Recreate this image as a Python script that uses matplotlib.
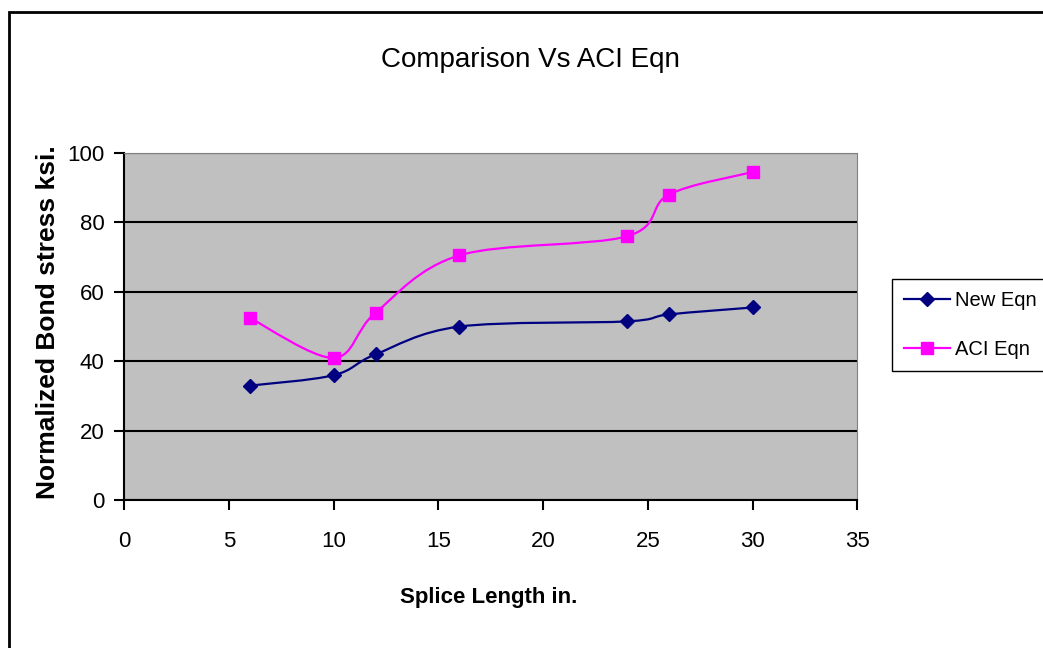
import matplotlib
matplotlib.use("Agg")
import matplotlib.pyplot as plt
from matplotlib.lines import Line2D
from matplotlib.path import Path
from matplotlib.patches import PathPatch, Rectangle
import numpy as np

plt.rcParams["font.family"] = ["Liberation Sans", "DejaVu Sans"]

splice_len = [6, 10, 12, 16, 24, 26, 30]
new_eqn = [33, 36, 42, 50, 51.5, 53.5, 55.5]
aci_eqn = [52.5, 41, 54, 70.5, 76, 88, 94.5]

C_NEW, C_ACI = "#000080", "#FF00FF"


def smooth_path(xs, ys):
    # Excel-style smoothed line: cubic bezier through every point
    p = np.column_stack([xs, ys]).astype(float)
    n = len(p)
    verts = [p[0]]
    codes = [Path.MOVETO]
    for i in range(n - 1):
        p0 = p[i - 1] if i > 0 else p[i]
        p3 = p[i + 2] if i + 2 < n else p[i + 1]
        c1 = p[i] + (p[i + 1] - p0) / 6
        c2 = p[i + 1] - (p3 - p[i]) / 6
        verts += [c1, c2, p[i + 1]]
        codes += [Path.CURVE4] * 3
    return Path(verts, codes)


fig = plt.figure(figsize=(10.43, 6.48), dpi=100)
ax = fig.add_axes([0.119, 0.228, 0.703, 0.536])
ax.set_facecolor("#C0C0C0")

for ys, c, m, ms in [(new_eqn, C_NEW, "D", 7), (aci_eqn, C_ACI, "s", 8)]:
    ax.add_patch(PathPatch(smooth_path(splice_len, ys), fill=False, edgecolor=c, lw=1.6, zorder=3))
    ax.plot(splice_len, ys, ls="none", marker=m, ms=ms, color=c, zorder=4)

ax.set_xlim(0, 35)
ax.set_ylim(0, 100)
ax.set_xticks(range(0, 36, 5))
ax.set_yticks(range(0, 101, 20))
ax.grid(axis="y", color="black", lw=1.5)
ax.set_axisbelow(True)
for s in ["top", "right"]:
    ax.spines[s].set_color("#808080")
ax.spines["left"].set_linewidth(1.5)
ax.spines["bottom"].set_linewidth(1.5)
ax.tick_params(direction="out", length=7, width=1.5, labelsize=16)
ax.tick_params(axis="x", pad=15)
ax.tick_params(axis="y", pad=7)

fig.text(530 / 1043, 1 - 67 / 648, "Comparison Vs ACI Eqn", fontsize=20,
         ha="center", va="baseline")
fig.text(489 / 1043, 1 - 597 / 648, "Splice Length in.", fontsize=16,
         fontweight="bold", ha="center", va="center")
fig.text(48 / 1043, 1 - 322 / 648, "Normalized Bond stress ksi.", fontsize=19,
         fontweight="bold", ha="center", va="center", rotation=90)

handles = [Line2D([], [], color=C_NEW, marker="D", ms=7, lw=1.6),
           Line2D([], [], color=C_ACI, marker="s", ms=8, lw=1.6)]
fig.legend(handles, ["New Eqn", "ACI Eqn"], loc="upper left",
           bbox_to_anchor=(892 / 1043, 1 - 279 / 648), fontsize=14.5,
           frameon=True, fancybox=False, edgecolor="black", framealpha=1,
           handlelength=2.3, borderpad=0.6, handletextpad=0.25, labelspacing=1.5,
           borderaxespad=0)

fig.patches.append(Rectangle((9 / 1043, -0.1), 1.1, 1.1 - 12 / 648,
                             transform=fig.transFigure, fill=False,
                             edgecolor="black", lw=2))
fig.savefig("out.png", dpi=100)
